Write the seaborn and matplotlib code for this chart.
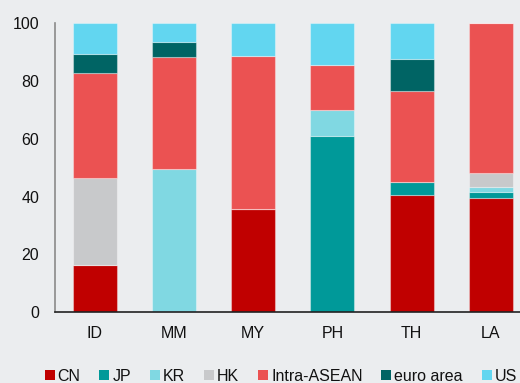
import matplotlib
matplotlib.use("Agg")
import matplotlib.pyplot as plt
import seaborn as sns
import numpy as np
from matplotlib.lines import Line2D

economies = ["ID", "MM", "MY", "PH", "TH", "LA"]
series_names = ["CN", "JP", "KR", "HK", "Intra-ASEAN", "euro area", "US"]

cn = [16.3, 0.0, 35.8, 0.0, 40.7, 39.7]
jp = [0.0, 0.0, 0.0, 61.0, 4.4, 2.0]
kr = [0.0, 49.6, 0.0, 9.1, 0.0, 1.5]
hk = [30.0, 0.0, 0.0, 0.0, 0.0, 5.1]
intra_asean = [36.5, 38.7, 52.9, 15.5, 31.5, 51.7]
euro_area = [6.5, 5.2, 0.0, 0.0, 11.0, 0.0]
us = [10.7, 6.5, 11.3, 14.4, 12.4, 0.0]

series_values = [cn, jp, kr, hk, intra_asean, euro_area, us]
colors = ["#C00000", "#009999", "#80D8E2", "#C8C9CB", "#EB5252", "#006464", "#62D6F0"]
y_ticks = [0, 20, 40, 60, 80, 100]

bg = "#EBEDEF"
sns.set_theme(style="white")
plt.rcParams["font.family"] = ["Liberation Sans", "DejaVu Sans"]

fig = plt.figure(figsize=(5.2, 3.83), dpi=100, facecolor=bg)
ax = fig.add_axes([55 / 520, 1 - 312.3 / 383, 465 / 520, 289 / 383])
ax.set_facecolor(bg)

bottom = np.zeros(len(economies))
for name, vals, col in zip(series_names, series_values, colors):
    sns.barplot(x=economies, y=vals, bottom=bottom, color=col, width=0.555,
                edgecolor=(1, 1, 1, 0.35), linewidth=0.8, ax=ax,
                saturation=1, label=name)
    bottom = bottom + np.array(vals)

ax.set_xlim(-0.5, 5.366)
ax.set_ylim(0, 100)
ax.set_yticks(y_ticks)
ax.tick_params(axis="y", length=0, pad=11.5, labelsize=11.5, colors="#111111")
ax.tick_params(axis="x", length=0, pad=10, labelsize=11.5, colors="#111111")
for s in ["top", "right"]:
    ax.spines[s].set_visible(False)
ax.spines["left"].set_color("#8A8A8A")
ax.spines["left"].set_linewidth(1.2)
ax.spines["bottom"].set_color("#222222")
ax.spines["bottom"].set_linewidth(1.2)
ax.set_xlabel("")
ax.set_ylabel("")
if ax.get_legend() is not None:
    ax.get_legend().remove()

handles = [Line2D([0], [0], marker="s", linestyle="", markersize=6.5,
                  markerfacecolor=c, markeredgewidth=0) for c in colors]
fig.legend(handles, series_names, loc="center", ncol=7, frameon=False,
           bbox_to_anchor=(281 / 520, 1 - 376.5 / 383), fontsize=11.5,
           handlelength=0.6, handletextpad=0.2, columnspacing=1.2,
           borderpad=0, labelcolor="#111111")

fig.savefig("out.png", dpi=100, facecolor=bg)
